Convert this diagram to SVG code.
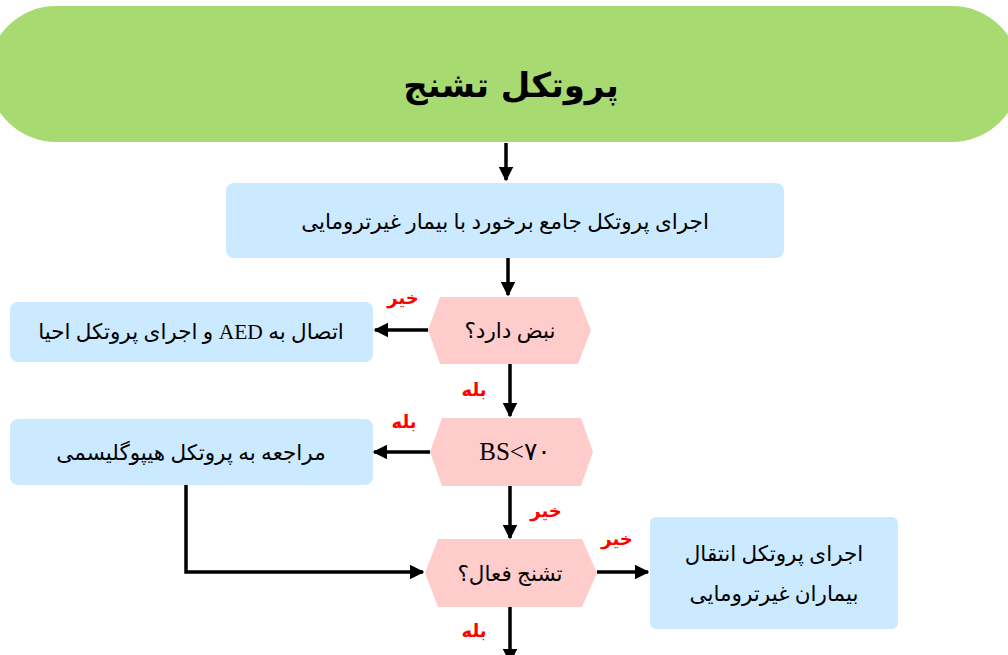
<svg xmlns="http://www.w3.org/2000/svg" width="1008" height="655" viewBox="0 0 1008 655">
<style>
.t{font-family:"Liberation Serif","DejaVu Sans",serif;font-size:21.5px;fill:#000;text-anchor:middle;direction:rtl}
.title{font-family:"DejaVu Sans",sans-serif;font-size:34px;font-weight:bold;fill:#000;text-anchor:middle;direction:rtl}
.lbl{font-family:"DejaVu Sans",sans-serif;font-size:18px;font-weight:bold;fill:#ff0000;text-anchor:middle;direction:rtl}
.box{fill:#cceaff}
.hex{fill:#ffcccc}
.c{stroke:#000;stroke-width:3.5;fill:none}
</style>
<defs>
<marker id="ah" viewBox="0 0 10 10" refX="9" refY="5" markerWidth="4.2" markerHeight="4.2" orient="auto" markerUnits="strokeWidth">
<path d="M0,0 L10,5 L0,10 z" fill="#000"/>
</marker>
</defs>
<rect width="1008" height="655" fill="#fff"/>
<g id="title">
<rect x="-12" y="6" width="1032" height="136" rx="68" ry="68" fill="#a8da72"/>
<text class="title" x="511" y="97">پروتکل تشنج</text>
</g>
<g id="n1">
<rect class="box" x="226" y="183" width="558" height="75" rx="8"/>
<text class="t" x="505" y="229">اجرای پروتکل جامع برخورد با بیمار غیرترومایی</text>
</g>
<g id="d1">
<polygon class="hex" points="428,330 440,297 578,297 591,330 578,364 440,364"/>
<text class="t" x="510" y="338">نبض دارد؟</text>
</g>
<g id="n2">
<rect class="box" x="10" y="302" width="363" height="60" rx="8"/>
<text class="t" x="191" y="339">اتصال به AED و اجرای پروتکل احیا</text>
</g>
<g id="d2">
<polygon class="hex" points="430,452 442,418 581,418 593,452 581,486 442,486"/>
<text class="t" x="515" y="460" style="font-size:25px">BS&lt;۷۰</text>
</g>
<g id="n3">
<rect class="box" x="10" y="419" width="363" height="66" rx="8"/>
<text class="t" x="191" y="460">مراجعه به پروتکل هیپوگلیسمی</text>
</g>
<g id="d3">
<polygon class="hex" points="425,573 438,539 582,539 597,573 582,607 438,607"/>
<text class="t" x="510" y="581">تشنج فعال؟</text>
</g>
<g id="n4">
<rect class="box" x="650" y="517" width="248" height="112" rx="6"/>
<text class="t" x="774" y="561">اجرای پروتکل انتقال</text>
<text class="t" x="774" y="601">بیماران غیرترومایی</text>
</g>
<g id="connectors">
<line class="c" x1="506" y1="143" x2="506" y2="180" marker-end="url(#ah)"/>
<line class="c" x1="508" y1="258" x2="508" y2="295" marker-end="url(#ah)"/>
<line class="c" x1="428" y1="330" x2="375" y2="330" marker-end="url(#ah)"/>
<line class="c" x1="510" y1="364" x2="510" y2="416" marker-end="url(#ah)"/>
<line class="c" x1="430" y1="452" x2="374" y2="452" marker-end="url(#ah)"/>
<line class="c" x1="510" y1="486" x2="510" y2="538" marker-end="url(#ah)"/>
<polyline class="c" points="186,485 186,572 423,572" marker-end="url(#ah)"/>
<line class="c" x1="597" y1="572" x2="648" y2="572" marker-end="url(#ah)"/>
<line class="c" x1="510" y1="607" x2="510" y2="662" marker-end="url(#ah)"/>
<text class="lbl" x="403" y="304">خیر</text>
<text class="lbl" x="474" y="396">بله</text>
<text class="lbl" x="404" y="428">بله</text>
<text class="lbl" x="546" y="517">خیر</text>
<text class="lbl" x="617" y="545">خیر</text>
<text class="lbl" x="474" y="637">بله</text>
</g>
</svg>
